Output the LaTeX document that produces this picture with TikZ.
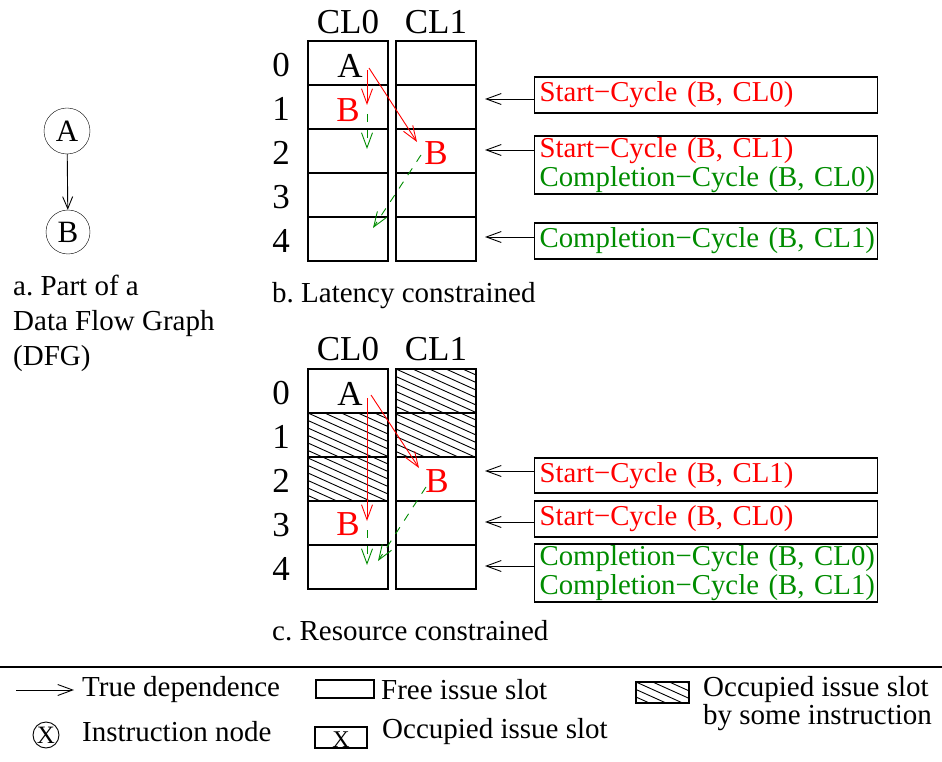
\documentclass[tikz,border=0pt]{standalone}
\usepackage{fontspec}
\setmainfont{Liberation Serif}
\usetikzlibrary{arrows.meta,positioning}
\definecolor{cyclegreen}{RGB}{0,140,0}
\newcommand{\hatchbox}[4]{%
  \begin{scope}
    \clip (#1,#2) rectangle (#3,#4);
    \foreach \k in {-8,...,14}
      \draw[hatch] (#1,{#2+(\k)*7.5}) -- ++(100,45);
  \end{scope}}
\frenchspacing

\begin{document}
\begin{tikzpicture}[x=1pt,y=-1pt,
    cell/.style={draw,line width=1.3pt,minimum width=80pt,minimum height=44pt,inner sep=0pt},
    note/.style={draw=black,line width=1.2pt,minimum width=343pt,minimum height=36pt,text width=333pt,
      inner xsep=5pt,inner ysep=1pt,align=left,anchor=west,font=\fontsize{28.8}{29}\selectfont},
    txt/.style={inner sep=0pt,anchor=west,font=\fontsize{29}{35}\selectfont},
    bigtxt/.style={inner sep=0pt,font=\fontsize{35}{35}\selectfont},
    tip/.style={-{Straight Barb[length=15pt,width=11pt]},line width=0.9pt},
    dep/.style={tip,red},
    done/.style={tip,cyclegreen,dash pattern=on 8pt off 8pt},
    hatch/.style={line width=0.9pt}]
  \useasboundingbox (0,0) rectangle (942,762);

  % a. data flow graph
  \node (dfgA) [draw,circle,minimum size=46pt,inner sep=0pt,font=\fontsize{31}{31}\selectfont] at (67,131) {A};
  \node (dfgB) [draw,circle,minimum size=44pt,inner sep=0pt,font=\fontsize{31}{31}\selectfont] at (68,232) {B};
  \draw [tip,-{Straight Barb[length=12pt,width=10pt]}] (dfgA) to (dfgB);
  \node (capA) [txt,align=left] at (13,323) {a. Part of a\\Data Flow Graph\\(DFG)};

  % b. latency constrained
  \node (hb0) [bigtxt] at (348,22) {CL0};
  \node (hb1) [bigtxt] at (436,22) {CL1};
  \foreach \r in {0,...,4} {
    \node (rb\r) [bigtxt] at (281,{65+44*\r}) {\r};
    \node (b0\r) [cell] at (348,{63+44*\r}) {};
    \node (b1\r) [cell] at (436,{63+44*\r}) {};
  }
  \node (bA) [bigtxt] at (350,66) {A};
  \node (bB0) [bigtxt,red] at (348,110) {B};
  \node (bB1) [bigtxt,red] at (436,153) {B};
  \coordinate (bA1) at (367,70);
  \coordinate (bA2) at (369,68);
  \coordinate (bB0s) at (367,105);
  \coordinate (bB0e) at (367,114);
  \coordinate (bB0c) at (367,149);
  \coordinate (bB1s) at (417,142);
  \coordinate (bB1e) at (421,155);
  \coordinate (bB1c) at (373,228);
  \draw [dep] (bA1) to (bB0s);
  \draw [dep] (bA2) to (bB1s);
  \draw [done] (bB0e) to (bB0c);
  \draw [done] (bB1e) to (bB1c);
  \node (capB) [txt] at (272,296) {b. Latency constrained};

  \node (nb1) [note,text=red] at (534,95) {\mbox{Start−Cycle (B, CL0)}};
  \node (nb2) [note,minimum height=58pt] at (534,165)
    {\mbox{\textcolor{red}{Start−Cycle (B, CL1)}}\\\mbox{\textcolor{cyclegreen}{Completion−Cycle (B, CL0)}}};
  \node (nb3) [note,text=cyclegreen] at (534,241) {\mbox{Completion−Cycle (B, CL1)}};
  \coordinate (pb1) at (485,99);
  \coordinate (pb2) at (485,150);
  \coordinate (pb3) at (485,237);
  \draw [tip] (nb1.west |- pb1) to (pb1);
  \draw [tip] (nb2.west |- pb2) to (pb2);
  \draw [tip] (nb3.west |- pb3) to (pb3);

  % c. resource constrained
  \hatchbox{396}{369}{476}{457}
  \hatchbox{308}{413}{388}{501}
  \node (hc0) [bigtxt] at (348,349) {CL0};
  \node (hc1) [bigtxt] at (436,349) {CL1};
  \foreach \r in {0,...,4} {
    \node (rc\r) [bigtxt] at (281,{393+44*\r}) {\r};
    \node (c0\r) [cell] at (348,{391+44*\r}) {};
    \node (c1\r) [cell] at (436,{391+44*\r}) {};
  }
  \node (cA) [bigtxt] at (350,394) {A};
  \node (cB0) [bigtxt,red] at (348,524) {B};
  \node (cB1) [bigtxt,red] at (437,481) {B};
  \coordinate (cA1) at (367,398);
  \coordinate (cA2) at (371,395);
  \coordinate (cB0s) at (367,521);
  \coordinate (cB0e) at (367,530);
  \coordinate (cB0c) at (367,565);
  \coordinate (cB1s) at (419,468);
  \coordinate (cB1e) at (426,487);
  \coordinate (cB1c) at (378,561);
  \draw [dep] (cA1) to (cB0s);
  \draw [dep] (cA2) to (cB1s);
  \draw [done] (cB0e) to (cB0c);
  \draw [done] (cB1e) to (cB1c);
  \node (capC) [txt] at (272,631) {c. Resource constrained};

  \node (nc1) [note,text=red,minimum height=35pt] at (534,475.5) {\mbox{Start−Cycle (B, CL1)}};
  \node (nc2) [note,text=red] at (534,519) {\mbox{Start−Cycle (B, CL0)}};
  \node (nc3) [note,text=cyclegreen,minimum height=58pt] at (534,573)
    {\mbox{Completion−Cycle (B, CL0)}\\\mbox{Completion−Cycle (B, CL1)}};
  \coordinate (pc1) at (485,471);
  \coordinate (pc2) at (485,522);
  \coordinate (pc3) at (485,566);
  \draw [tip] (nc1.west |- pc1) to (pc1);
  \draw [tip] (nc2.west |- pc2) to (pc2);
  \draw [tip] (nc3.west |- pc3) to (pc3);

  % legend
  \coordinate (sepL) at (0,667);
  \coordinate (sepR) at (942,667);
  \draw [line width=1.3pt] (sepL) to (sepR);
  \coordinate (legS) at (16,690);
  \coordinate (legE) at (74,690);
  \draw [tip] (legS) to (legE);
  \node (legDep) [txt] at (82,690) {True dependence};
  \node (legFree) [draw,line width=1.2pt,minimum width=58pt,minimum height=18pt,inner sep=0pt] at (345,689) {};
  \node (legFreeT) [txt] at (381,690) {Free issue slot};
  \hatchbox{636}{682}{689}{703}
  \node (legHatch) [draw,line width=1.2pt,minimum width=53pt,minimum height=21pt,inner sep=0pt] at (662.5,692.5) {};
  \node (legHatchT) [txt,align=left,font=\fontsize{29}{28}\selectfont] at (703,704)
    {Occupied issue slot\\by some instruction};
  \node (legNode) [draw,circle,line width=0.9pt,minimum size=26pt,inner sep=0pt,font=\fontsize{25}{25}\selectfont] at (46,735) {X};
  \node (legNodeT) [txt] at (82,732) {Instruction node};
  \node (legOcc) [draw,line width=1.2pt,minimum width=52pt,minimum height=21pt,inner sep=0pt] at (341,737.5) {};
  \node (legX) [inner sep=0pt,font=\fontsize{24}{24}\selectfont,anchor=base] at (341,747) {X};
  \node (legOccT) [txt] at (382,732) {Occupied issue slot};
\end{tikzpicture}
\end{document}
